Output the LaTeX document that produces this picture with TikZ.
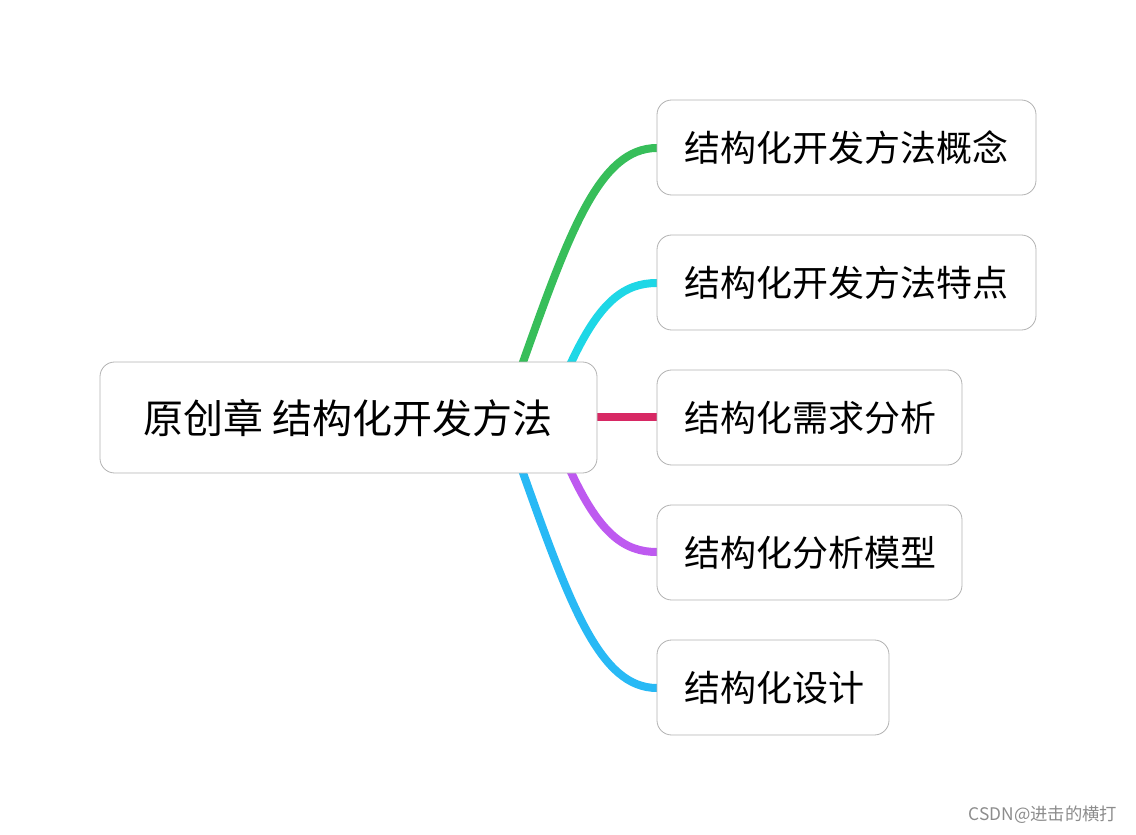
\documentclass[tikz,border=0pt]{standalone}
\usepackage{fontspec}
\newfontfamily\cjk{Noto Sans CJK SC}
\begin{document}
\begin{tikzpicture}[x=0.75pt,y=-0.75pt,
  box/.style={draw=black!30,line width=0.6pt,rounded corners=11pt,fill=white,inner sep=0},
  lbl/.style={font=\cjk\fontsize{27}{30}\selectfont,anchor=west},
  br/.style={line width=6pt,line cap=round}]
\useasboundingbox (0,0) rectangle (1136,835);
\draw[br,color={rgb,255:red,55;green,190;blue,90}] (522,365) .. controls (570,230) and (600,148) .. (657,148);
\draw[br,color={rgb,255:red,30;green,215;blue,230}] (570,365) .. controls (600,300) and (625,283) .. (657,283);
\draw[br,line cap=butt,color={rgb,255:red,215;green,40;blue,100}] (597,417) -- (657,417);
\draw[br,color={rgb,255:red,190;green,90;blue,240}] (570,470) .. controls (600,535) and (625,552) .. (657,552);
\draw[br,color={rgb,255:red,40;green,185;blue,245}] (522,470) .. controls (570,605) and (600,688) .. (657,688);
\draw[box] (100,362) rectangle (597,473);
\node[font=\cjk\fontsize{30}{34}\selectfont] (root) at (348,418) {原创章 结构化开发方法};
\draw[box] (657,100) rectangle (1036,195);
\node[lbl] (a) at (680,148) {结构化开发方法概念};
\draw[box] (657,235) rectangle (1036,330);
\node[lbl] (b) at (680,283) {结构化开发方法特点};
\draw[box] (657,370) rectangle (962,465);
\node[lbl] (c) at (680,418) {结构化需求分析};
\draw[box] (657,505) rectangle (962,600);
\node[lbl] (d) at (680,553) {结构化分析模型};
\draw[box] (657,640) rectangle (889,735);
\node[lbl] (e) at (680,688) {结构化设计};
\node[font=\cjk\fontsize{13}{15}\selectfont,text=black!45,anchor=east] (w) at (1122,815) {CSDN@进击的横打};
\end{tikzpicture}
\end{document}
